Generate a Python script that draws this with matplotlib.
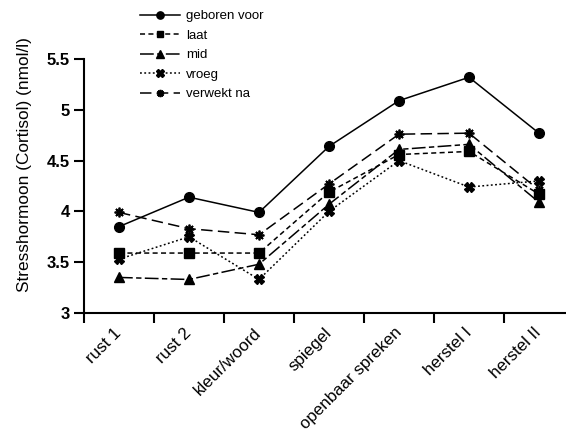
import matplotlib
matplotlib.use("Agg")
import matplotlib.pyplot as plt
import matplotlib.transforms as mtransforms
import numpy as np

categories = ["rust 1", "rust 2", "kleur/woord", "spiegel", "openbaar spreken", "herstel I", "herstel II"]
geboren_voor = [3.85, 4.14, 3.99, 4.64, 5.09, 5.32, 4.77]
laat = [3.59, 3.59, 3.59, 4.19, 4.56, 4.59, 4.17]
mid = [3.35, 3.33, 3.48, 4.07, 4.61, 4.66, 4.09]
vroeg = [3.53, 3.75, 3.33, 4.00, 4.50, 4.24, 4.30]
verwekt_na = [3.99, 3.83, 3.77, 4.27, 4.76, 4.77, 4.21]
yticks = [3, 3.5, 4, 4.5, 5, 5.5]
ytick_labels = ["3", "3.5", "4", "4.5", "5", "5.5"]

plt.rcParams['font.family'] = ['Liberation Sans', 'DejaVu Sans']

fig = plt.figure(figsize=(5.66, 4.33), dpi=100)
ax = fig.add_axes([84/566, (433-313)/433, 490/566, (313-59)/433])

x = np.arange(len(categories)) + 0.5
lw = 1.1
h1, = ax.plot(x, geboren_voor, color='black', lw=lw, ls='-', marker='o', ms=7, label='geboren voor')
h2, = ax.plot(x, laat, color='black', lw=lw, ls=(0, (3.3, 2.2)), marker='s', ms=6.5, label='laat')
h3, = ax.plot(x, mid, color='black', lw=lw, ls=(0, (9, 2.2, 3.5, 2.2)), marker='^', ms=7, label='mid')
h4, = ax.plot(x, vroeg, color='black', lw=lw, ls=(0, (1.2, 1.6)), marker='X', ms=7, label='vroeg')
h5, = ax.plot(x, verwekt_na, color='black', lw=lw, ls=(0, (7.5, 3.5)), marker=(8, 2, 0), ms=7, mew=1.3, label='verwekt na')

ax.set_xlim(0, len(categories))
ax.set_ylim(3, 5.5)
ax.set_yticks(yticks)
ax.set_yticklabels(ytick_labels, fontweight='bold', fontsize=12)
ax.set_xticks(np.arange(len(categories) + 1))
ax.set_xticklabels([])
ax.set_xticks(x, minor=True)
ax.set_xticklabels(categories, minor=True, rotation=45, ha='right', va='center',
                   rotation_mode='anchor', fontsize=12.2)
offset = mtransforms.ScaledTranslation(-3/100, 0, fig.dpi_scale_trans)
for lab in ax.get_xticklabels(minor=True):
    lab.set_transform(lab.get_transform() + offset)
ax.tick_params(axis='x', which='minor', length=0, pad=12.5)
ax.tick_params(axis='both', which='major', length=7, width=1.5, direction='out')
ax.tick_params(axis='y', pad=3)
for s in ['top', 'right']:
    ax.spines[s].set_visible(False)
for s in ['left', 'bottom']:
    ax.spines[s].set_linewidth(1.5)
ax.set_ylabel("Stresshormoon (Cortisol) (nmol/l)", fontsize=12.4)
ax.yaxis.set_label_coords(-0.106, 0.583)

fig.legend(handles=[h1, h2, h3, h4, h5], loc='upper left', bbox_to_anchor=(140/566, 1 - 10/433),
           frameon=False, fontsize=9.5, handlelength=3.0, handletextpad=0.5, labelspacing=0.55,
           borderaxespad=0, borderpad=0, markerscale=0.75)

fig.savefig("out.png", dpi=100)
